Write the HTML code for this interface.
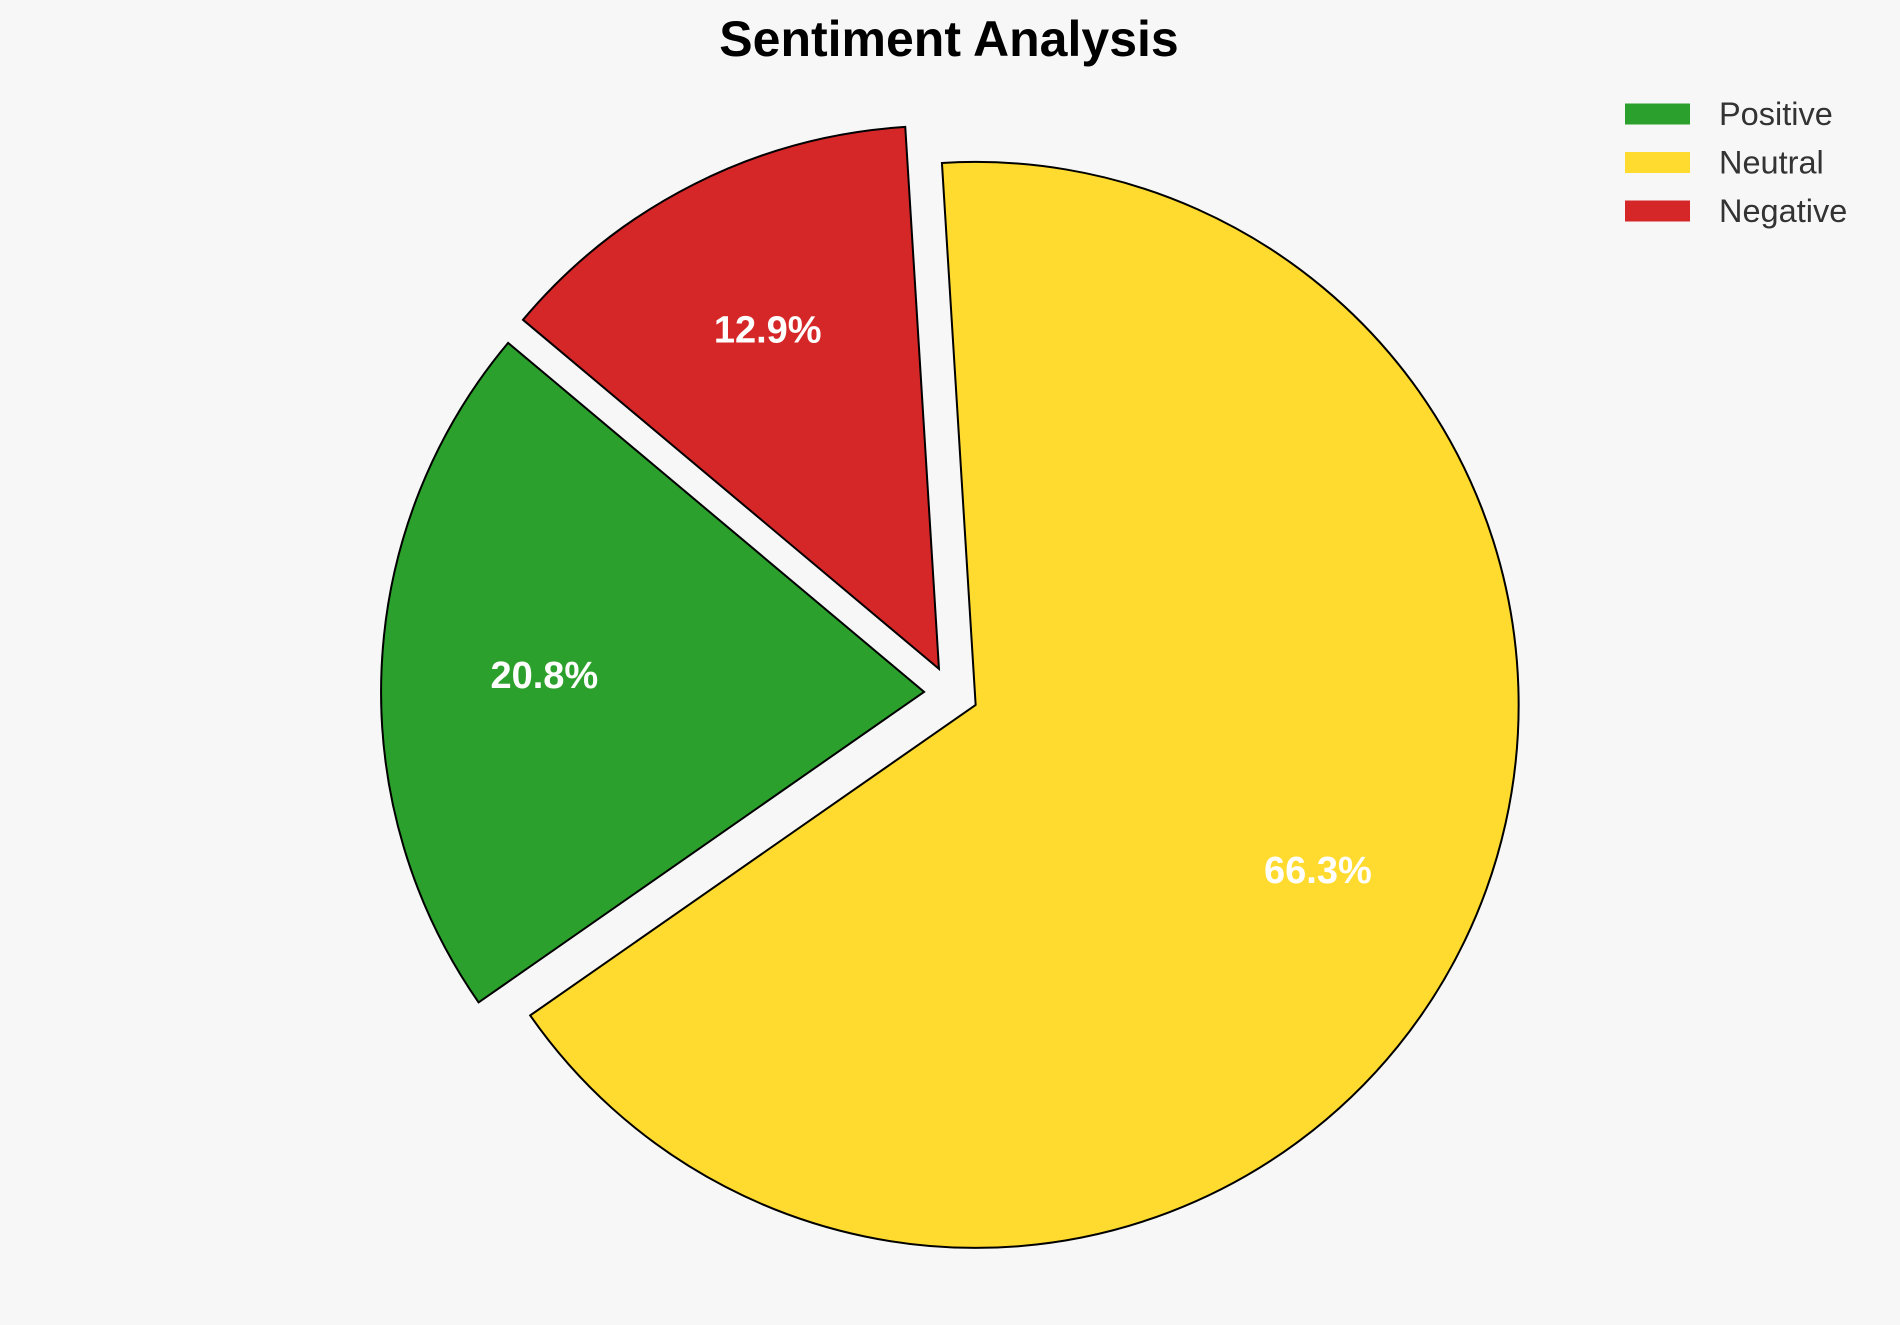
<!DOCTYPE html>
<html><head><meta charset="utf-8"><style>
html,body{margin:0;padding:0;background:#f7f7f7;}
svg{display:block;font-family:"Liberation Sans",Arial,sans-serif;}
</style></head><body>
<svg id="chart" width="1900" height="1325" viewBox="0 0 1900 1325">
<rect x="0" y="0" width="1900" height="1325" fill="#f7f7f7"/>
<text x="949" y="56" text-anchor="middle" font-size="50" font-weight="bold" fill="#000">Sentiment Analysis</text>
<g id="slices"></g>
<g id="legend"></g>
</svg>
<script>
const categories = ["Positive", "Neutral", "Negative"];
const values = [20.8, 66.3, 12.9];
const colors = ["#2ca02c", "#ffda2f", "#d62728"];
const explode = [0.05, 0.05, 0.05];

const NS = "http://www.w3.org/2000/svg";
const cx = 951.2, cy = 693.1, R = 543, startAngle = 140, pctDist = 0.7;
const total = values.reduce((a, b) => a + b, 0);
const sg = document.getElementById("slices");
const lg = document.getElementById("legend");
let a0 = startAngle;
function pt(x, y, r, deg) { const t = deg * Math.PI / 180; return [x + r * Math.cos(t), y - r * Math.sin(t)]; }
values.forEach((v, i) => {
  const span = v / total * 360;
  const a1 = a0 + span;
  const mid = (a0 + a1) / 2;
  const [ox, oy] = pt(cx, cy, explode[i] * R, mid);
  const p0 = pt(ox, oy, R, a0), p1 = pt(ox, oy, R, a1);
  const large = span > 180 ? 1 : 0;
  const path = document.createElementNS(NS, "path");
  path.setAttribute("d", `M${ox},${oy} L${p0[0]},${p0[1]} A${R},${R} 0 ${large} 0 ${p1[0]},${p1[1]} Z`);
  path.setAttribute("fill", colors[i]);
  path.setAttribute("stroke", "#000");
  path.setAttribute("stroke-width", "2");
  
  
  sg.appendChild(path);
  const [lx, ly] = pt(ox, oy, R * pctDist, mid);
  const t = document.createElementNS(NS, "text");
  t.setAttribute("x", lx); t.setAttribute("y", ly + 13);
  t.setAttribute("text-anchor", "middle");
  t.setAttribute("font-size", "38"); t.setAttribute("font-weight", "bold");
  t.setAttribute("fill", "#fff");
  t.textContent = v.toFixed(1) + "%";
  
  
  sg.appendChild(t);
  a0 = a1;
});
categories.forEach((c, i) => {
  const y = 114 + i * 48.5;
  const r = document.createElementNS(NS, "rect");
  r.setAttribute("x", 1625); r.setAttribute("y", y - 10.5);
  r.setAttribute("width", 65); r.setAttribute("height", 21);
  r.setAttribute("fill", colors[i]);
  
  
  lg.appendChild(r);
  const t = document.createElementNS(NS, "text");
  t.setAttribute("x", 1719); t.setAttribute("y", y + 11);
  t.setAttribute("font-size", "32.5"); t.setAttribute("fill", "#333");
  t.textContent = c;
  
  
  lg.appendChild(t);
});
</script>
</body></html>
